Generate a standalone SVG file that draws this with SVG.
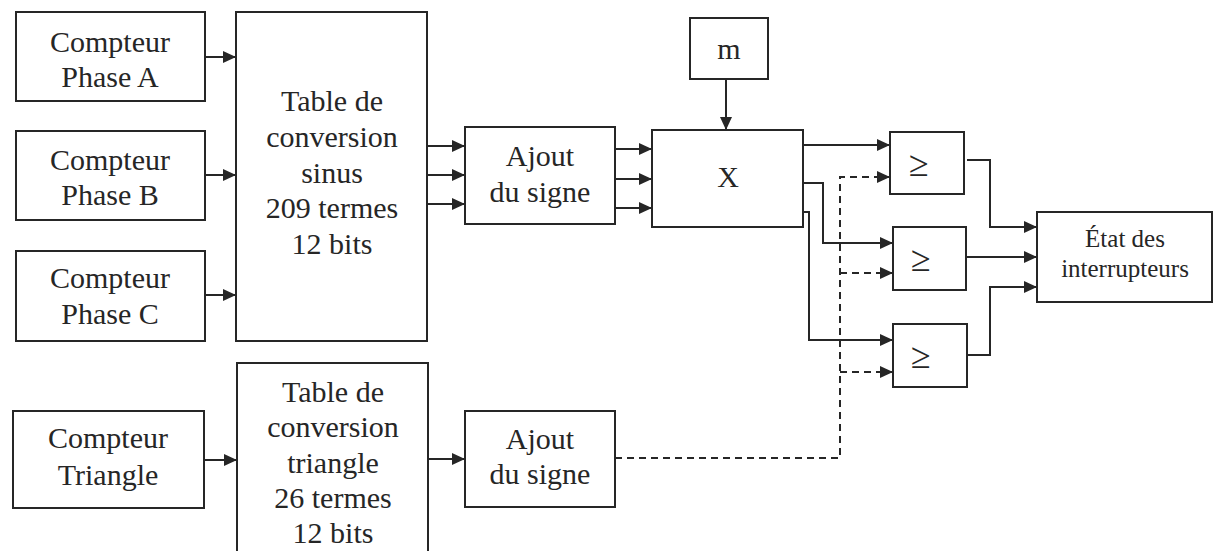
<svg xmlns="http://www.w3.org/2000/svg" width="1213" height="551" viewBox="0 0 1213 551">
  <style>
    .box { fill: #fff; stroke: #262626; stroke-width: 2; }
    .lbl { font-family: 'Liberation Serif', 'DejaVu Serif', 'Times New Roman', serif; font-size: 30px; fill: #262626; text-anchor: middle; }
    .sm { font-size: 25px; }
    .ge { font-size: 36px; }
    .wire { fill: none; stroke: #262626; stroke-width: 2; }
    .dash { stroke-dasharray: 7 5; }
  </style>
  <defs>
    <marker id="arrow" markerUnits="userSpaceOnUse" markerWidth="14" markerHeight="12" refX="13" refY="6" orient="auto">
      <path d="M0,0 L13,6 L0,12 z" fill="#262626" stroke="none"/>
    </marker>
  </defs>
  <rect width="1213" height="551" fill="#fff"/>

  <!-- connectors -->
  <g id="connectors">
    <path class="wire" d="M205,57 H236" marker-end="url(#arrow)"/>
    <path class="wire" d="M205,175 H236" marker-end="url(#arrow)"/>
    <path class="wire" d="M205,295 H236" marker-end="url(#arrow)"/>
    <path class="wire" d="M427,146 H465" marker-end="url(#arrow)"/>
    <path class="wire" d="M427,175 H465" marker-end="url(#arrow)"/>
    <path class="wire" d="M427,204 H465" marker-end="url(#arrow)"/>
    <path class="wire" d="M615,149 H652" marker-end="url(#arrow)"/>
    <path class="wire" d="M615,179 H652" marker-end="url(#arrow)"/>
    <path class="wire" d="M615,208 H652" marker-end="url(#arrow)"/>
    <path class="wire" d="M726,79 V130" marker-end="url(#arrow)"/>
    <path class="wire" d="M803,145 H890" marker-end="url(#arrow)"/>
    <path class="wire" d="M803,183 H823 V243 H893" marker-end="url(#arrow)"/>
    <path class="wire" d="M803,212 H809 V340 H893" marker-end="url(#arrow)"/>
    <path class="wire dash" d="M615,458 H840 V177 H890" marker-end="url(#arrow)"/>
    <path class="wire dash" d="M840,273 H893" marker-end="url(#arrow)"/>
    <path class="wire dash" d="M840,372 H893" marker-end="url(#arrow)"/>
    <path class="wire" d="M967,160 H990 V227 H1037" marker-end="url(#arrow)"/>
    <path class="wire" d="M966,257 H1037" marker-end="url(#arrow)"/>
    <path class="wire" d="M967,355 H990 V287 H1037" marker-end="url(#arrow)"/>
    <path class="wire" d="M204,460 H237" marker-end="url(#arrow)"/>
    <path class="wire" d="M428,459 H465" marker-end="url(#arrow)"/>
  </g>

  <g id="compteur-a">
    <rect class="box" x="16" y="12" width="189" height="89"/>
    <text class="lbl" x="110" y="52">Compteur</text>
    <text class="lbl" x="110" y="87">Phase A</text>
  </g>
  <g id="compteur-b">
    <rect class="box" x="16" y="131" width="189" height="89"/>
    <text class="lbl" x="110" y="170">Compteur</text>
    <text class="lbl" x="110" y="205">Phase B</text>
  </g>
  <g id="compteur-c">
    <rect class="box" x="16" y="251" width="189" height="90"/>
    <text class="lbl" x="110" y="288">Compteur</text>
    <text class="lbl" x="110" y="324">Phase C</text>
  </g>
  <g id="table-sinus">
    <rect class="box" x="236" y="12" width="191" height="329"/>
    <text class="lbl" x="332" y="111">Table de</text>
    <text class="lbl" x="332" y="147">conversion</text>
    <text class="lbl" x="332" y="183">sinus</text>
    <text class="lbl" x="332" y="218">209 termes</text>
    <text class="lbl" x="332" y="254">12 bits</text>
  </g>
  <g id="ajout-signe-1">
    <rect class="box" x="465" y="127" width="150" height="97"/>
    <text class="lbl" x="540" y="166">Ajout</text>
    <text class="lbl" x="540" y="202">du signe</text>
  </g>
  <g id="gain-m">
    <rect class="box" x="690" y="18" width="78" height="61"/>
    <text class="lbl" x="729" y="59">m</text>
  </g>
  <g id="multiplieur">
    <rect class="box" x="652" y="130" width="151" height="97"/>
    <text class="lbl" x="728" y="187">X</text>
  </g>
  <g id="comparateur-1">
    <rect class="box" x="890" y="132" width="74" height="62"/>
    <text class="lbl ge" x="919" y="176">≥</text>
  </g>
  <g id="comparateur-2">
    <rect class="box" x="893" y="227" width="73" height="63"/>
    <text class="lbl ge" x="921" y="271">≥</text>
  </g>
  <g id="comparateur-3">
    <rect class="box" x="893" y="324" width="74" height="63"/>
    <text class="lbl ge" x="921" y="368">≥</text>
  </g>
  <g id="etat-interrupteurs">
    <rect class="box" x="1037" y="212" width="175" height="90"/>
    <text class="lbl sm" x="1125" y="247">État des</text>
    <text class="lbl sm" x="1125" y="277">interrupteurs</text>
  </g>
  <g id="compteur-triangle">
    <rect class="box" x="13" y="411" width="191" height="97"/>
    <text class="lbl" x="108" y="448">Compteur</text>
    <text class="lbl" x="108" y="485">Triangle</text>
  </g>
  <g id="table-triangle">
    <rect class="box" x="237" y="363" width="191" height="200"/>
    <text class="lbl" x="333" y="402">Table de</text>
    <text class="lbl" x="333" y="437">conversion</text>
    <text class="lbl" x="333" y="473">triangle</text>
    <text class="lbl" x="333" y="508">26 termes</text>
    <text class="lbl" x="333" y="543">12 bits</text>
  </g>
  <g id="ajout-signe-2">
    <rect class="box" x="465" y="411" width="150" height="96"/>
    <text class="lbl" x="540" y="449">Ajout</text>
    <text class="lbl" x="540" y="484">du signe</text>
  </g>
</svg>
